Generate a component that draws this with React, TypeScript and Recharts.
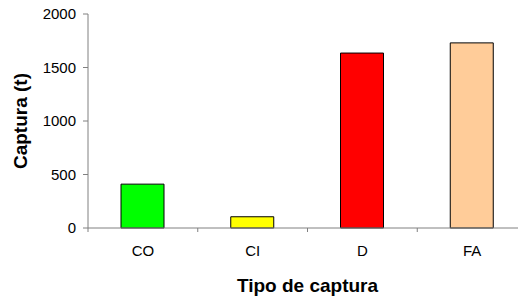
import React from 'react';
import { BarChart, Bar, XAxis, YAxis, Cell } from 'recharts';

const categories = ['CO', 'CI', 'D', 'FA'];
const captura = [410, 105, 1635, 1730];
const colors = ['#00FF00', '#FFFF00', '#FF0000', '#FFCC99'];
const yTicks = [0, 500, 1000, 1500, 2000];

const data = categories.map((c, i) => ({ name: c, value: captura[i] }));

const FONT = '"Liberation Sans", Arial, sans-serif';
const AXIS = '#808080';

const XTick = (props: any) => {
  const { x, y, payload, index, visibleTicksCount } = props;
  const off = payload && typeof payload.offset === 'number' ? payload.offset : 55;
  const isLast = index === (visibleTicksCount ?? categories.length) - 1;
  return (
    <g>
      <line x1={x - off} x2={x - off} y1={y} y2={y + 4} stroke={AXIS} strokeWidth={1} />
      {isLast && <line x1={x + off} x2={x + off} y1={y} y2={y + 4} stroke={AXIS} strokeWidth={1} />}
      <text x={x} y={y + 17} dy="0.71em" textAnchor="middle" fontSize={15} fontFamily={FONT} fill="#000">
        {payload.value}
      </text>
    </g>
  );
};

export default function App() {
  return (
    <div style={{ position: 'absolute', left: 0, top: 0, width: 518, height: 297, overflow: 'hidden', background: '#fff' }}>
      <BarChart width={540} height={297} data={data} margin={{ top: 14, right: 13, left: 0, bottom: 0 }}>
        <XAxis
          dataKey="name"
          height={69}
          axisLine={{ stroke: AXIS, strokeWidth: 1 }}
          tickLine={false}
          tickSize={0}
          tickMargin={0}
          tick={<XTick />}
          interval={0}
          label={{ value: 'Tipo de captura', position: 'insideBottom', offset: 5, style: { fontSize: 19, fontWeight: 'bold', fontFamily: FONT, fill: '#000' } }}
        />
        <YAxis
          width={88}
          domain={[0, 2000]}
          ticks={yTicks}
          interval={0}
          axisLine={{ stroke: AXIS, strokeWidth: 1 }}
          tickLine={{ stroke: AXIS, strokeWidth: 1 }}
          tickSize={5}
          tickMargin={7}
          tick={{ fontSize: 15, fontFamily: FONT, fill: '#000' }}
          label={{ value: 'Captura (t)', angle: -90, position: 'insideLeft', offset: 20, style: { textAnchor: 'middle', fontSize: 19, fontWeight: 'bold', fontFamily: FONT, fill: '#000' } }}
        />
        <Bar dataKey="value" barSize={43} stroke="#000" strokeWidth={1} isAnimationActive={false}>
          {data.map((d, i) => (
            <Cell key={d.name} fill={colors[i]} />
          ))}
        </Bar>
      </BarChart>
    </div>
  );
}
